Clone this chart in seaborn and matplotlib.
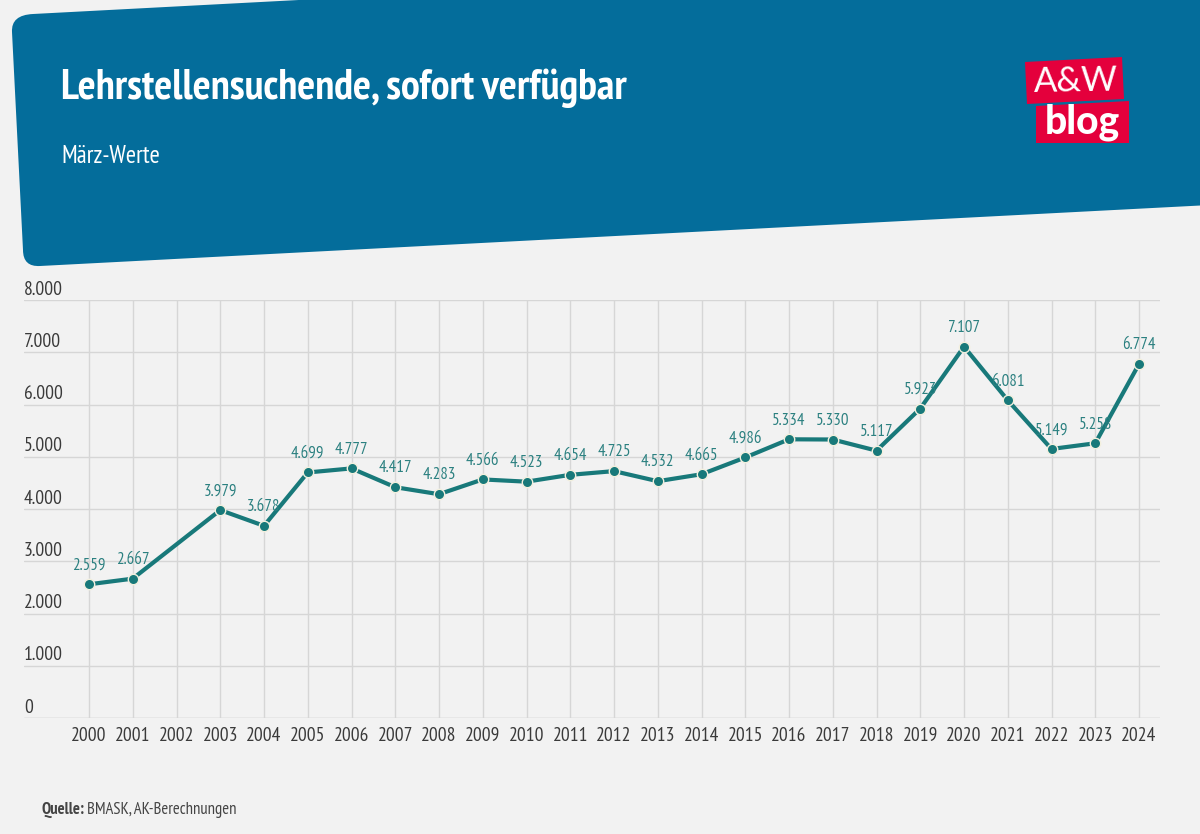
import matplotlib
matplotlib.use("Agg")
import matplotlib.pyplot as plt
import pandas as pd
import seaborn as sns
from matplotlib.patches import PathPatch, Polygon
from matplotlib.path import Path
from matplotlib import font_manager

# Maerz-Werte, 2002 has no value in the source
years = [2000, 2001, 2003, 2004, 2005, 2006, 2007, 2008, 2009, 2010, 2011, 2012,
         2013, 2014, 2015, 2016, 2017, 2018, 2019, 2020, 2021, 2022, 2023, 2024]
values = [2559, 2667, 3979, 3678, 4699, 4777, 4417, 4283, 4566, 4523, 4654, 4725,
          4532, 4665, 4986, 5334, 5330, 5117, 5923, 7107, 6081, 5149, 5258, 6774]
year_ticks = list(range(2000, 2025))
y_ticks = [0, 1000, 2000, 3000, 4000, 5000, 6000, 7000, 8000]

BG = "#f2f2f2"
BLUE = "#046d9b"
TEAL = "#18797a"
RED = "#e4003c"
GRID = "#d6d6d6"

sns.set_theme(style="white")
names = {f.name for f in font_manager.fontManager.ttflist}
# the narrow face is not on every machine, Roboto needs smaller sizes then
if "PT Sans Narrow" in names:
    FONT, SCALE = "PT Sans Narrow", 1.0
else:
    FONT, SCALE = "Roboto", 0.8
plt.rcParams["font.family"] = [FONT, "DejaVu Sans"]


def dots(v):
    return f"{v:,}".replace(",", ".")


fig = plt.figure(figsize=(12, 8.34), dpi=100, facecolor=BG)

# pixel canvas for banner and logo
bg = fig.add_axes([0, 0, 1, 1], zorder=0)
bg.set_xlim(0, 1200)
bg.set_ylim(834, 0)
bg.axis("off")

verts = [(33, 14), (1210, -48), (1210, 205), (40, 266), (23, 267), (23, 250), (12, 32), (11, 15), (33, 14)]
codes = [Path.MOVETO, Path.LINETO, Path.LINETO, Path.LINETO, Path.CURVE3, Path.CURVE3,
         Path.LINETO, Path.CURVE3, Path.CURVE3]
bg.add_patch(PathPatch(Path(verts, codes), fc=BLUE, ec="none"))

bg.add_patch(Polygon([(1025, 62), (1122, 57), (1124, 99), (1027, 104)], fc=RED, ec="none"))
bg.add_patch(Polygon([(1036, 106), (1129, 101), (1129, 143), (1036, 143)], fc=RED, ec="none"))
bg.text(1076, 81, "A&W", color="white", fontsize=25, ha="center", va="center", family="Lato",
        weight="normal", rotation=1)
bg.text(1082, 122, "blog", color="white", fontsize=28, ha="center", va="center", family="Lato", weight="black")

bg.text(61, 88, "Lehrstellensuchende, sofort verfügbar", color="white", fontsize=30.4 * SCALE,
        weight="bold", ha="left", va="center")
bg.text(61, 156, "März-Werte", color="white", fontsize=17.7 * SCALE, ha="left", va="center")

q = bg.text(41, 810, "Quelle:", color="#444444", fontsize=12 * SCALE, weight="bold", ha="left", va="center")
bg.annotate("BMASK, AK-Berechnungen", xy=(1, 0.5), xycoords=q, xytext=(2, 0), textcoords="offset points",
            color="#444444", fontsize=12 * SCALE, ha="left", va="center")

# chart area 24..1160 x 300..718 px
ax = fig.add_axes([24 / 1200, 1 - 718 / 834, (1160 - 24) / 1200, (718 - 300) / 834], zorder=1)
ax.patch.set_alpha(0)
step = (1139 - 89) / 24
ax.set_xlim(2000 - (89 - 24) / step, 2024 + (1160 - 1139) / step)
ax.set_ylim(0, 8000)

df = pd.DataFrame({"Jahr": years, "Wert": values})
sns.lineplot(data=df, x="Jahr", y="Wert", ax=ax, color=TEAL, linewidth=3, marker="o",
             markersize=7.5, markeredgecolor="#f3f0df", markeredgewidth=1.0, zorder=3)

for x, v in zip(years, values):
    ax.annotate(dots(v), (x, v), xytext=(0, 13.5), textcoords="offset points", ha="center",
                va="center", color="#2b8080", fontsize=12.2 * SCALE, zorder=4)

ax.set_xticks(year_ticks)
ax.set_yticks(y_ticks)
ax.set_xticklabels([str(y) for y in year_ticks], color="#3a3a3a", fontsize=14 * SCALE)
ax.set_yticklabels([])
ax.grid(True, color=GRID, linewidth=1)
ax.set_axisbelow(True)
ax.tick_params(axis="both", length=0)
ax.tick_params(axis="x", pad=6.8)
ax.set_xlabel("")
ax.set_ylabel("")
sns.despine(ax=ax, left=True, right=True, top=True, bottom=True)
ax.axhline(0, color=GRID, linewidth=1, zorder=1)

# y labels sit above their gridline at the left end
for t in y_ticks:
    ax.annotate(dots(t), (0, t), xycoords=("axes fraction", "data"), xytext=(0, 7.4),
                textcoords="offset points", ha="left", va="center", color="#3a3a3a", fontsize=14 * SCALE)

fig.savefig("out.png", dpi=100, facecolor=BG)
